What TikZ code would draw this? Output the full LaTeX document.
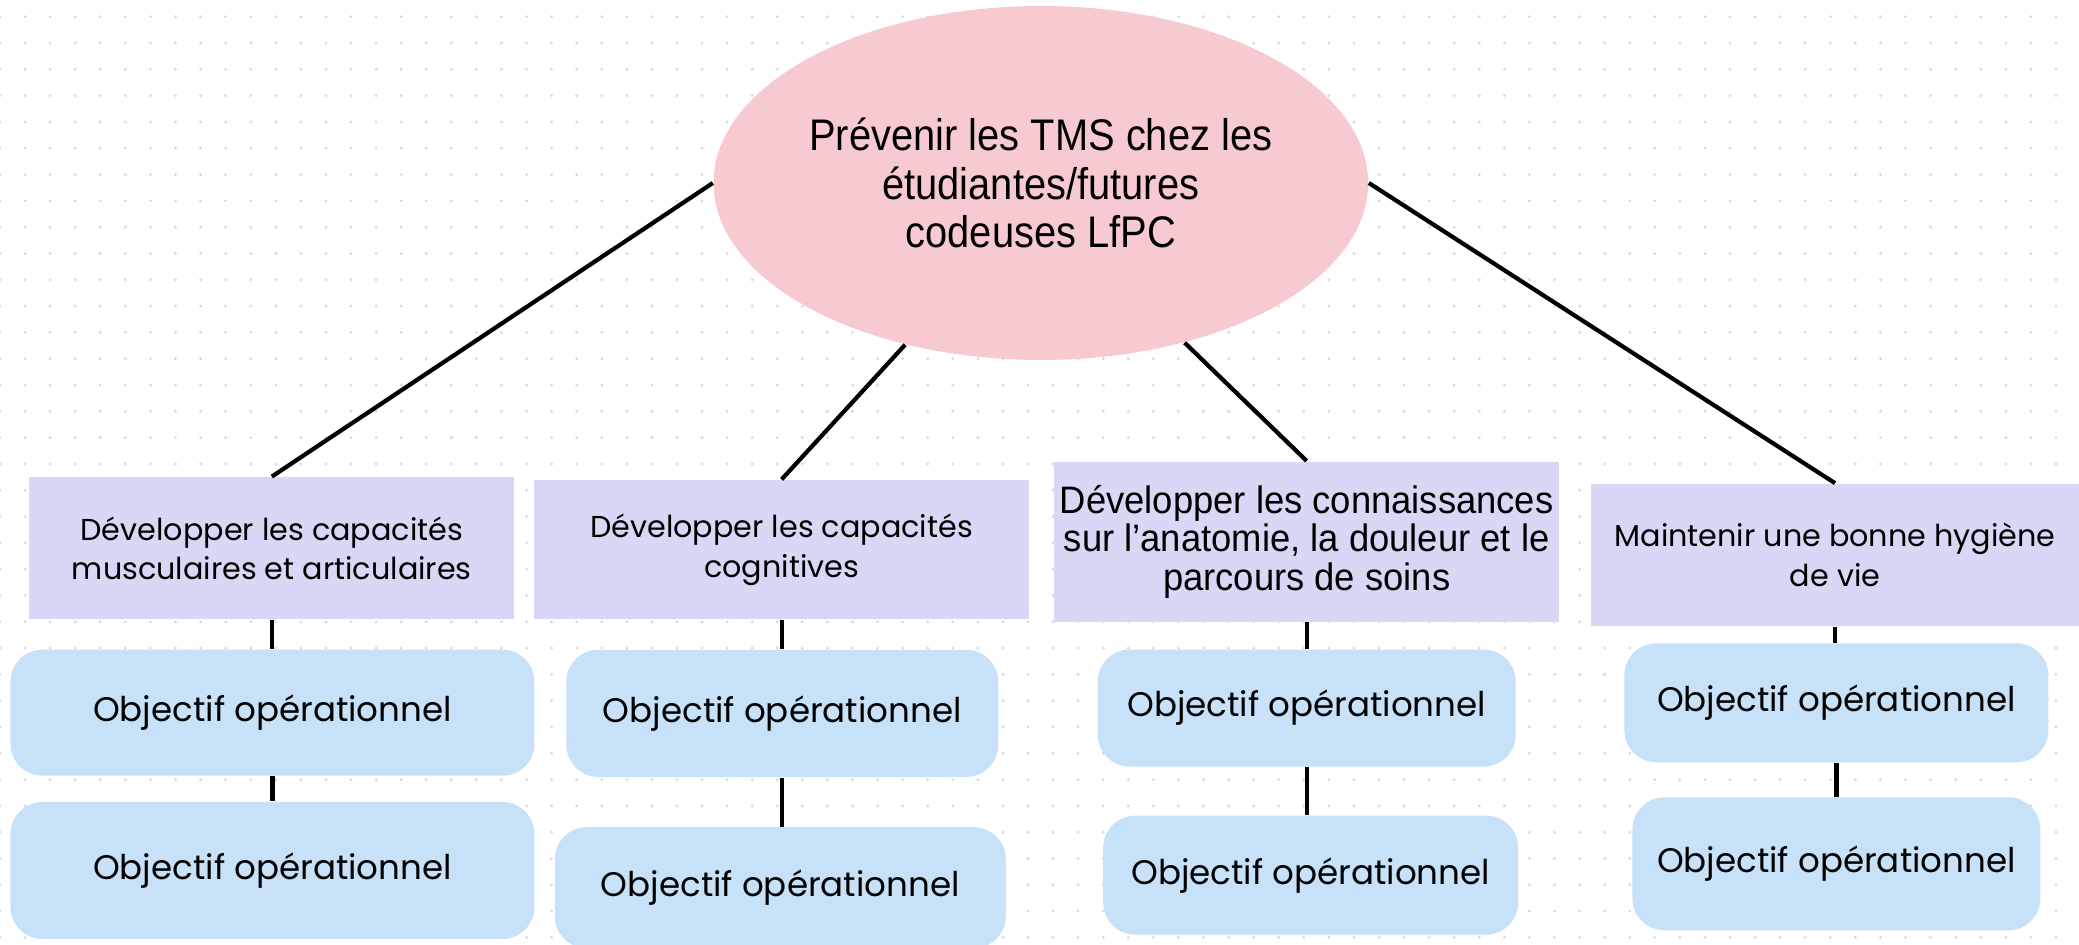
\documentclass[tikz,border=0pt]{standalone}
\usepackage{fontspec}
\usetikzlibrary{shapes.geometric}
\newfontfamily\ronde{Poppins}
\newfontfamily\etroite[FakeStretch=0.9]{Liberation Sans}
\newfontfamily\serree[FakeStretch=0.95]{Liberation Sans}
\definecolor{rose}{HTML}{F6CAD0}
\definecolor{lavande}{HTML}{D8D8F6}
\definecolor{bleu}{HTML}{C7E2F8}
\definecolor{pointille}{HTML}{DADADA}
\begin{document}
\begin{tikzpicture}[x=0.013259cm,y=-0.013259cm,
		racine/.style={ellipse,fill=rose,inner sep=0pt,minimum width=6.52cm,minimum height=3.54cm,align=center,font=\etroite\fontsize{12.6pt}{13.9pt}\selectfont},
		general/.style={rectangle,fill=lavande,inner sep=0pt,align=center,font=\ronde\fontsize{8.6pt}{11.3pt}\selectfont},
		operationnel/.style={rectangle,rounded corners=0.32cm,fill=bleu,inner sep=0pt,font=\ronde\fontsize{9.7pt}{12pt}\selectfont},
		trait/.style={line width=1.2pt}]
				\useasboundingbox (0,0) rectangle (1568,712);
				\fill[white] (0,0) rectangle (1568,712);
				% fond a points
				\foreach \i in {0,...,83}
					\foreach \j in {0,...,35}
						\fill[pointille] (\i*18.91,12.6+\j*19.84) circle (0.016cm);
				\node[racine] (tms) at (785,138) {Prévenir les TMS chez les\\étudiantes/futures\\codeuses LfPC};
				\node[general,minimum width=4.85cm,minimum height=1.42cm] (musc) at (205,413.5) {Développer les capacités\\musculaires et articulaires};
				\node[general,minimum width=4.95cm,minimum height=1.39cm] (cogn) at (589.5,414.5) {Développer les capacités\\cognitives};
				\node[general,minimum width=5.05cm,minimum height=1.60cm,font=\serree\fontsize{10.9pt}{10.9pt}\selectfont] (anat) at (985.5,408.5) {Développer les connaissances\\sur l’anatomie, la douleur et le\\parcours de soins};
				\node[general,minimum width=4.88cm,minimum height=1.42cm] (hyg) at (1384,418.5) {Maintenir une bonne hygiène\\de vie};
				\node[operationnel,minimum width=5.24cm,minimum height=1.26cm] (musca) at (205.5,537.5) {Objectif opérationnel};
				\node[operationnel,minimum width=5.24cm,minimum height=1.37cm] (muscb) at (205.5,656.5) {Objectif opérationnel};
				\node[operationnel,minimum width=4.32cm,minimum height=1.27cm] (cogna) at (590,538) {Objectif opérationnel};
				\node[operationnel,minimum width=4.51cm,minimum height=1.21cm] (cognb) at (588.5,669.5) {Objectif opérationnel};
				\node[operationnel,minimum width=4.18cm,minimum height=1.17cm] (anata) at (985.5,534) {Objectif opérationnel};
				\node[operationnel,minimum width=4.15cm,minimum height=1.19cm] (anatb) at (988.5,660) {Objectif opérationnel};
				\node[operationnel,minimum width=4.24cm,minimum height=1.19cm] (hyga) at (1385,530) {Objectif opérationnel};
				\node[operationnel,minimum width=4.08cm,minimum height=1.33cm] (hygb) at (1385,651.5) {Objectif opérationnel};
				\draw[trait] (tms.west) to (musc.north);
				\draw[trait] (tms.230) to (cogn.north);
				\draw[trait] (tms.312) to (anat.north);
				\draw[trait] (tms.east) to (hyg.north);
				\draw[trait] (musc.south) to (musc.south |- musca.north);
				\draw[trait] (musca.south) to (musca.south |- muscb.north);
				\draw[trait] (cogn.south) to (cogn.south |- cogna.north);
				\draw[trait] (cogna.south) to (cogna.south |- cognb.north);
				\draw[trait] (anat.south) to (anat.south |- anata.north);
				\draw[trait] (anata.south) to (anata.south |- anatb.north);
				\draw[trait] (hyg.south) to (hyg.south |- hyga.north);
				\draw[trait] (hyga.south) to (hyga.south |- hygb.north);
			\end{tikzpicture}
\end{document}
